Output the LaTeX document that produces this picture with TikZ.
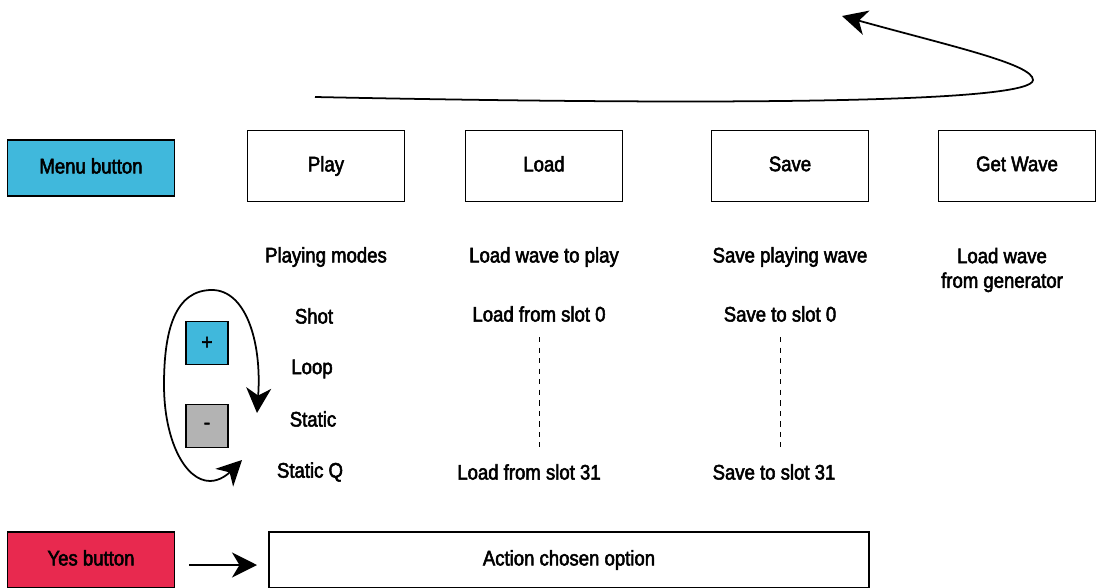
\documentclass[tikz,border=0pt]{standalone}
\usepackage{fontspec}
\setmainfont{Liberation Sans}[FakeStretch=0.88,FakeBold=2.5]
\usepackage{tikz}
\usepackage{xcolor}
\usetikzlibrary{positioning,arrows.meta,calc}

\definecolor{menublue}{HTML}{40B8DC}
\definecolor{yesred}{HTML}{E8294F}
\definecolor{minusgray}{HTML}{B3B3B3}

\begin{document}
\begin{tikzpicture}[
  x=0.02cm,y=-0.02cm,
  block/.style={draw,line width=1pt,minimum width=31.4mm,minimum height=14.2mm,
  align=center,text depth=0.25em,font=\fontsize{12}{14}\selectfont},
  button/.style={draw,line width=1pt,minimum width=33.4mm,minimum height=11.2mm,
  text depth=0.25em,font=\fontsize{12}{14}\selectfont},
  key/.style={draw,line width=1pt,minimum width=8.4mm,minimum height=8.6mm,
  font=\fontsize{12}{14}\selectfont},
  lbl/.style={align=center,font=\fontsize{12}{14}\selectfont},
  arr/.style={-{Stealth[length=5mm,width=5mm,inset=1.5mm]},line width=1pt},
  darr/.style={{Stealth[length=5mm,width=5mm,inset=1.5mm]}-{Stealth[length=5mm,width=5mm,inset=1.5mm]},line width=1pt}
]
\useasboundingbox (0,0) rectangle (1099,588);
% menu row
\node[button,fill=menublue] (menu) at (91,168) {Menu button};
\node[block] (play) at (326,166) {Play};
\node[block] (load) at (544,166) {Load};
\node[block] (save) at (790,166) {Save};
\node[block] (getwave) at (1017,166) {Get Wave};
\coordinate (cycstart) at (315,97);
\coordinate (cycend) at (842,16);
\draw[arr] (cycstart) .. controls (750,106) and (1033,102) .. (1033,80)
  .. controls (1033,64) and (950,46) .. (cycend);
% descriptions
\node[lbl] (playdesc) at (326,257) {Playing modes};
\node[lbl] (loaddesc) at (544,257) {Load wave to play};
\node[lbl] (savedesc) at (790,257) {Save playing wave};
\node[lbl] (getdesc) at (1002,270) {Load wave\\from generator};
% playing modes
\node[lbl] (shot) at (314,316) {Shot};
\node[lbl] (loop) at (312,369) {Loop};
\node[lbl] (static) at (313,419) {Static};
\node[lbl] (staticq) at (310,472) {Static Q};
\node[key,fill=menublue] (plus) at (207,343) {+};
\node[key,fill=minusgray] (minus) at (207,426) {-};
\coordinate (ringa) at (257,413);
\coordinate (ringb) at (242,460);
\draw[darr] (ringa) .. controls (262,340) and (245,290) .. (212,290)
  .. controls (175,290) and (164,330) .. (164,385)
  .. controls (164,440) and (185,481) .. (210,481)
  .. controls (220,481) and (228,474) .. (ringb);
% slots
\node[lbl] (load0) at (539,314) {Load from slot 0};
\node[lbl] (load31) at (529,472) {Load from slot 31};
\node[lbl] (save0) at (780,314) {Save to slot 0};
\node[lbl] (save31) at (774,472) {Save to slot 31};
\coordinate (ld1) at (539,337);
\coordinate (ld2) at (539,447);
\coordinate (sd1) at (780,337);
\coordinate (sd2) at (780,447);
\draw[dashed] (ld1) -- (ld2);
\draw[dashed] (sd1) -- (sd2);
% yes row
\node[button,fill=yesred] (yes) at (91,560) {Yes button};
\node[block,minimum width=120mm,minimum height=11.2mm] (action) at (569,560) {Action chosen option};
\coordinate (yesarr) at (189,565);
\coordinate (yestip) at (257,565);
\draw[arr] (yesarr) -- (yestip);
\end{tikzpicture}
\end{document}
